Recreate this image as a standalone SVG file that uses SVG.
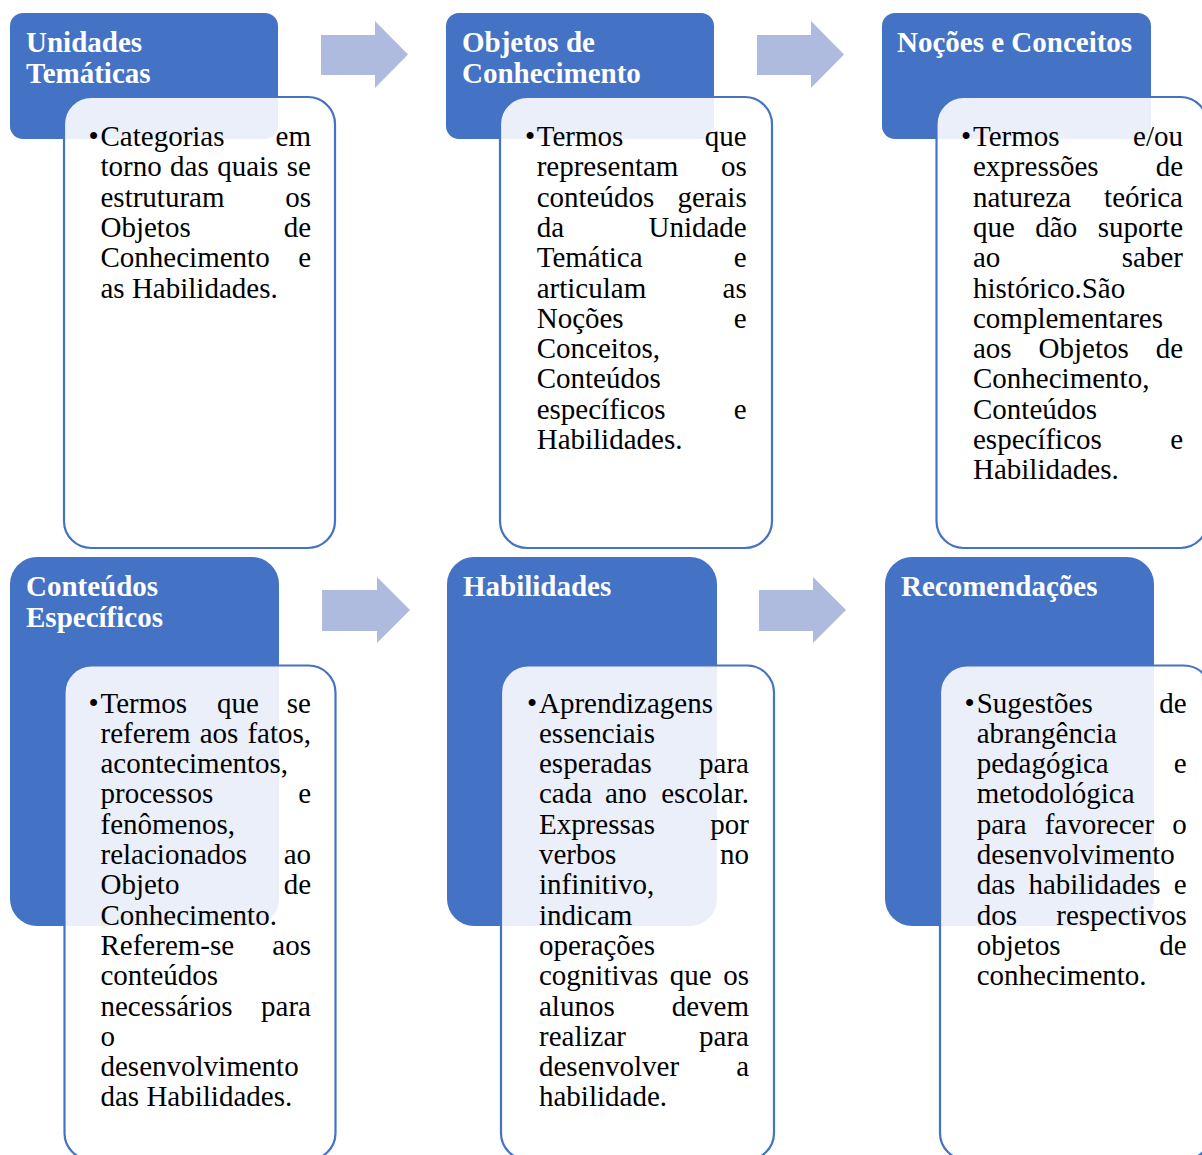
<svg xmlns="http://www.w3.org/2000/svg" width="1202" height="1155" viewBox="0 0 1202 1155">
<style>
.hd{fill:#4472C4}
.bx{fill:#fff;fill-opacity:0.89;stroke:#4472C4;stroke-width:2.2}
.ht{font-family:"Liberation Serif","Times New Roman",serif;font-size:29px;font-weight:bold;fill:#fff}
.tx{font-family:"Liberation Serif","Times New Roman",serif;font-size:29px;fill:#000}
.e{text-anchor:end}
.ar{fill:#AEBBDF}
</style>
<rect width="1202" height="1155" fill="#fff"/>
<g id="connectors">
<polygon class="ar" points="321,35 375,35 375,21 408,54.5 375,88 375,75 321,75"/>
<polygon class="ar" points="757,35 811,35 811,21 844,54.5 811,88 811,75 757,75"/>
<polygon class="ar" points="322,590 377,590 377,577 410,610 377,643 377,631 322,631"/>
<polygon class="ar" points="759,590 813,590 813,577 846,610 813,643 813,631 759,631"/>
</g>
<g id="unidades-tematicas">
<rect class="hd" x="10" y="13" width="268" height="126" rx="13"/>
<text class="ht" x="26" y="52">Unidades</text>
<text class="ht" x="26" y="83">Temáticas</text>
<rect class="bx" x="64" y="97" width="271" height="451" rx="27"/>
<text class="tx" y="146"><tspan x="88.5">•</tspan><tspan x="100.5">Categorias</tspan><tspan class="e" x="311">em</tspan></text>
<text class="tx" y="176.3"><tspan x="100.5">torno</tspan><tspan x="170.1">das</tspan><tspan x="217.2">quais</tspan><tspan class="e" x="311">se</tspan></text>
<text class="tx" y="206.6"><tspan x="100.5">estruturam</tspan><tspan class="e" x="311">os</tspan></text>
<text class="tx" y="236.9"><tspan x="100.5">Objetos</tspan><tspan class="e" x="311">de</tspan></text>
<text class="tx" y="267.2"><tspan x="100.5">Conhecimento</tspan><tspan class="e" x="311">e</tspan></text>
<text class="tx" x="100.5" y="297.5">as Habilidades.</text>
</g>
<g id="objetos-de-conhecimento">
<rect class="hd" x="446" y="13" width="268" height="126" rx="13"/>
<text class="ht" x="462" y="52">Objetos de</text>
<text class="ht" x="462" y="83">Conhecimento</text>
<rect class="bx" x="500" y="97" width="272" height="451" rx="27"/>
<text class="tx" y="146"><tspan x="525">•</tspan><tspan x="536.7">Termos</tspan><tspan class="e" x="746.7">que</tspan></text>
<text class="tx" y="176.3"><tspan x="536.7">representam</tspan><tspan class="e" x="746.7">os</tspan></text>
<text class="tx" y="206.6"><tspan x="536.7">conteúdos</tspan><tspan class="e" x="746.7">gerais</tspan></text>
<text class="tx" y="236.9"><tspan x="536.7">da</tspan><tspan class="e" x="746.7">Unidade</tspan></text>
<text class="tx" y="267.2"><tspan x="536.7">Temática</tspan><tspan class="e" x="746.7">e</tspan></text>
<text class="tx" y="297.5"><tspan x="536.7">articulam</tspan><tspan class="e" x="746.7">as</tspan></text>
<text class="tx" y="327.8"><tspan x="536.7">Noções</tspan><tspan class="e" x="746.7">e</tspan></text>
<text class="tx" x="536.7" y="358.1">Conceitos,</text>
<text class="tx" x="536.7" y="388.4">Conteúdos</text>
<text class="tx" y="418.7"><tspan x="536.7">específicos</tspan><tspan class="e" x="746.7">e</tspan></text>
<text class="tx" x="536.7" y="449">Habilidades.</text>
</g>
<g id="nocoes-e-conceitos">
<rect class="hd" x="882" y="13" width="269" height="126" rx="13"/>
<text class="ht" x="897" y="52">Noções e Conceitos</text>
<rect class="bx" x="936.5" y="97" width="271" height="451" rx="27"/>
<text class="tx" y="146"><tspan x="961">•</tspan><tspan x="973">Termos</tspan><tspan class="e" x="1183">e/ou</tspan></text>
<text class="tx" y="176.3"><tspan x="973">expressões</tspan><tspan class="e" x="1183">de</tspan></text>
<text class="tx" y="206.6"><tspan x="973">natureza</tspan><tspan class="e" x="1183">teórica</tspan></text>
<text class="tx" y="236.9"><tspan x="973">que</tspan><tspan x="1035.3">dão</tspan><tspan class="e" x="1183">suporte</tspan></text>
<text class="tx" y="267.2"><tspan x="973">ao</tspan><tspan class="e" x="1183">saber</tspan></text>
<text class="tx" x="973" y="297.5">histórico.São</text>
<text class="tx" x="973" y="327.8">complementares</text>
<text class="tx" y="358.1"><tspan x="973">aos</tspan><tspan x="1038.6">Objetos</tspan><tspan class="e" x="1183">de</tspan></text>
<text class="tx" x="973" y="388.4">Conhecimento,</text>
<text class="tx" x="973" y="418.7">Conteúdos</text>
<text class="tx" y="449"><tspan x="973">específicos</tspan><tspan class="e" x="1183">e</tspan></text>
<text class="tx" x="973" y="479.3">Habilidades.</text>
</g>
<g id="conteudos-especificos">
<rect class="hd" x="10" y="557" width="269" height="369" rx="27"/>
<text class="ht" x="26" y="596">Conteúdos</text>
<text class="ht" x="26" y="627">Específicos</text>
<rect class="bx" x="64.5" y="665.5" width="271" height="494.5" rx="27"/>
<text class="tx" y="712.5"><tspan x="88.5">•</tspan><tspan x="100.5">Termos</tspan><tspan x="217">que</tspan><tspan class="e" x="311">se</tspan></text>
<text class="tx" y="742.8"><tspan x="100.5">referem</tspan><tspan x="199.7">aos</tspan><tspan class="e" x="311">fatos,</tspan></text>
<text class="tx" x="100.5" y="773.1">acontecimentos,</text>
<text class="tx" y="803.4"><tspan x="100.5">processos</tspan><tspan class="e" x="311">e</tspan></text>
<text class="tx" x="100.5" y="833.7">fenômenos,</text>
<text class="tx" y="864"><tspan x="100.5">relacionados</tspan><tspan class="e" x="311">ao</tspan></text>
<text class="tx" y="894.3"><tspan x="100.5">Objeto</tspan><tspan class="e" x="311">de</tspan></text>
<text class="tx" x="100.5" y="924.6">Conhecimento.</text>
<text class="tx" y="954.9"><tspan x="100.5">Referem-se</tspan><tspan class="e" x="311">aos</tspan></text>
<text class="tx" x="100.5" y="985.2">conteúdos</text>
<text class="tx" y="1015.5"><tspan x="100.5">necessários</tspan><tspan class="e" x="311">para</tspan></text>
<text class="tx" x="100.5" y="1045.8">o</text>
<text class="tx" x="100.5" y="1076.1">desenvolvimento</text>
<text class="tx" x="100.5" y="1106.4">das Habilidades.</text>
</g>
<g id="habilidades">
<rect class="hd" x="447" y="557" width="270" height="369" rx="27"/>
<text class="ht" x="463" y="596">Habilidades</text>
<rect class="bx" x="501" y="665.5" width="273" height="494.5" rx="27"/>
<text class="tx" y="712.5"><tspan x="527">•</tspan><tspan x="539">Aprendizagens</tspan></text>
<text class="tx" x="539" y="742.8">essenciais</text>
<text class="tx" y="773.1"><tspan x="539">esperadas</tspan><tspan class="e" x="749">para</tspan></text>
<text class="tx" y="803.4"><tspan x="539">cada</tspan><tspan x="604.9">ano</tspan><tspan class="e" x="749">escolar.</tspan></text>
<text class="tx" y="833.7"><tspan x="539">Expressas</tspan><tspan class="e" x="749">por</tspan></text>
<text class="tx" y="864"><tspan x="539">verbos</tspan><tspan class="e" x="749">no</tspan></text>
<text class="tx" x="539" y="894.3">infinitivo,</text>
<text class="tx" x="539" y="924.6">indicam</text>
<text class="tx" x="539" y="954.9">operações</text>
<text class="tx" y="985.2"><tspan x="539">cognitivas</tspan><tspan x="669.8">que</tspan><tspan class="e" x="749">os</tspan></text>
<text class="tx" y="1015.5"><tspan x="539">alunos</tspan><tspan class="e" x="749">devem</tspan></text>
<text class="tx" y="1045.8"><tspan x="539">realizar</tspan><tspan class="e" x="749">para</tspan></text>
<text class="tx" y="1076.1"><tspan x="539">desenvolver</tspan><tspan class="e" x="749">a</tspan></text>
<text class="tx" x="539" y="1106.4">habilidade.</text>
</g>
<g id="recomendacoes">
<rect class="hd" x="885" y="557" width="269" height="369" rx="27"/>
<text class="ht" x="901" y="596">Recomendações</text>
<rect class="bx" x="940" y="665.5" width="271" height="494.5" rx="27"/>
<text class="tx" y="712.5"><tspan x="964.5">•</tspan><tspan x="976.7">Sugestões</tspan><tspan class="e" x="1186.7">de</tspan></text>
<text class="tx" x="976.7" y="742.8">abrangência</text>
<text class="tx" y="773.1"><tspan x="976.7">pedagógica</tspan><tspan class="e" x="1186.7">e</tspan></text>
<text class="tx" x="976.7" y="803.4">metodológica</text>
<text class="tx" y="833.7"><tspan x="976.7">para</tspan><tspan x="1044.7">favorecer</tspan><tspan class="e" x="1186.7">o</tspan></text>
<text class="tx" x="976.7" y="864">desenvolvimento</text>
<text class="tx" y="894.3"><tspan x="976.7">das</tspan><tspan x="1028.5">habilidades</tspan><tspan class="e" x="1186.7">e</tspan></text>
<text class="tx" y="924.6"><tspan x="976.7">dos</tspan><tspan class="e" x="1186.7">respectivos</tspan></text>
<text class="tx" y="954.9"><tspan x="976.7">objetos</tspan><tspan class="e" x="1186.7">de</tspan></text>
<text class="tx" x="976.7" y="985.2">conhecimento.</text>
</g>
</svg>
